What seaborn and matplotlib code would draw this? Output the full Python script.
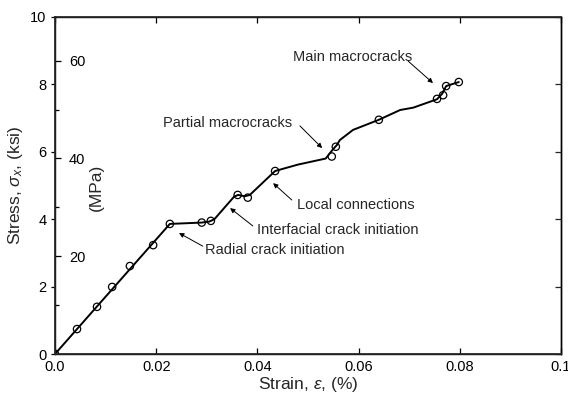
import numpy as np
import pandas as pd
import matplotlib
matplotlib.use("Agg")
import matplotlib.pyplot as plt
from matplotlib.ticker import FixedLocator
import seaborn as sns

# measured points (strain %, stress ksi)
pt_strain = [0.0, 0.00435, 0.0083, 0.0113, 0.0148, 0.0194, 0.0227, 0.0290, 0.0308,
             0.0361, 0.0381, 0.0435, 0.0547, 0.0555, 0.0640, 0.0755, 0.0767, 0.0773, 0.0798]
pt_stress = [0.0, 0.74, 1.40, 1.99, 2.61, 3.23, 3.86, 3.90, 3.95,
             4.72, 4.64, 5.43, 5.86, 6.15, 6.95, 7.57, 7.68, 7.95, 8.07]

# traced curve vertices
ln_strain = [0.0, 0.0227, 0.0290, 0.0305, 0.0315, 0.0354, 0.0362, 0.0375, 0.0385, 0.0435,
             0.0480, 0.0535, 0.0548, 0.0557, 0.0563, 0.0589, 0.0640, 0.0682, 0.0708,
             0.0755, 0.0765, 0.0773, 0.0798]
ln_stress = [0.0, 3.86, 3.90, 3.93, 4.00, 4.67, 4.72, 4.68, 4.72, 5.43,
             5.62, 5.80, 6.05, 6.20, 6.35, 6.65, 6.95, 7.24, 7.31,
             7.56, 7.72, 7.95, 8.07]

x_ticks = [0.0, 0.02, 0.04, 0.06, 0.08, 0.1]
x_labels = ['0.0', '0.02', '0.04', '0.06', '0.08', '0.1']
y_ticks = [0, 2, 4, 6, 8, 10]
mpa_major = [20, 40, 60]
mpa_minor = [10, 30, 50]

notes = ["Main macrocracks", "Partial macrocracks", "Local connections",
         "Interfacial crack initiation", "Radial crack initiation"]
note_text_xy = [(0.0470, 8.81), (0.0213, 6.85), (0.0478, 4.42), (0.0399, 3.68), (0.0296, 3.09)]
note_arrow_start = [(0.0698, 8.69), (0.0484, 6.77), (0.0468, 4.57), (0.0391, 3.80), (0.0292, 3.20)]
note_arrow_end = [(0.0747, 8.04), (0.0528, 6.11), (0.0431, 5.07), (0.0346, 4.33), (0.0245, 3.59)]

sns.set_theme(style="ticks")
plt.rcParams['font.family'] = ['Liberation Sans', 'DejaVu Sans']
plt.rcParams['mathtext.fontset'] = 'custom'
plt.rcParams['mathtext.rm'] = 'Liberation Sans'
plt.rcParams['mathtext.it'] = 'Liberation Sans:italic'

fig = plt.figure(figsize=(5.68, 3.93), dpi=100)
ax = fig.add_axes([55/568, 1-354/393, (561-55)/568, (354-17)/393])

line_df = pd.DataFrame({"strain": ln_strain, "stress": ln_stress})
pt_df = pd.DataFrame({"strain": pt_strain, "stress": pt_stress})

sns.lineplot(data=line_df, x="strain", y="stress", sort=False, estimator=None,
             color="black", lw=1.4, ax=ax)
sns.scatterplot(data=pt_df, x="strain", y="stress", ax=ax, s=28, marker="o",
                facecolor="none", edgecolor="black", linewidth=0.9, zorder=3)

ax.set_xlim(0, 0.1)
ax.set_ylim(0, 10)
ax.set_xticks(x_ticks)
ax.set_xticklabels(x_labels)
ax.set_yticks(y_ticks)
for s in ax.spines.values():
    s.set_visible(True)
    s.set_linewidth(1.0)
    s.set_color("black")
ax.tick_params(axis='x', which='both', direction='in', top=True, bottom=True,
               length=4, width=0.9, labelsize=10.5, pad=4, colors='black')
ax.tick_params(axis='y', which='both', direction='out', left=True, right=False,
               length=3, width=0.9, labelsize=10.5, pad=3, colors='black')

# right spine ticks (inward)
axr = ax.twinx()
axr.set_ylim(0, 10)
axr.set_yticks(y_ticks)
axr.tick_params(axis='y', direction='in', length=4, width=0.9, labelright=False)
axr.spines['right'].set_linewidth(1.0)
axr.spines['right'].set_color('black')

# MPa scale on the inside of the left spine
sec = ax.secondary_yaxis(0.0, functions=(lambda k: k * 6.895, lambda m: m / 6.895))
sec.yaxis.set_major_locator(FixedLocator(mpa_major))
sec.yaxis.set_minor_locator(FixedLocator(mpa_minor))
sec.yaxis.set_ticks_position('right')
sec.tick_params(axis='y', which='major', direction='out', length=4, width=0.9,
                labelsize=10.5, pad=6, colors='black')
sec.tick_params(axis='y', which='minor', direction='out', length=3, width=0.9,
                colors='black', right=True, left=False)
for s in sec.spines.values():
    s.set_visible(False)
ax.text(0.0081, 4.93, "(MPa)", rotation=90, ha='center', va='center', fontsize=12.5)

ax.set_xlabel(r"Strain, $\epsilon$, (%)", fontsize=12.5, labelpad=1)
ax.set_ylabel(r"Stress, $\sigma_x$, (ksi)", fontsize=12.5, labelpad=4)

for t, txy, a0, a1 in zip(notes, note_text_xy, note_arrow_start, note_arrow_end):
    ax.text(txy[0], txy[1], t, ha='left', va='center', fontsize=10.5)
    ax.annotate("", xy=a1, xytext=a0,
                arrowprops=dict(arrowstyle='-|>', lw=0.7, color='black',
                                mutation_scale=7, shrinkA=0, shrinkB=0))

fig.savefig("out.png", dpi=100)
